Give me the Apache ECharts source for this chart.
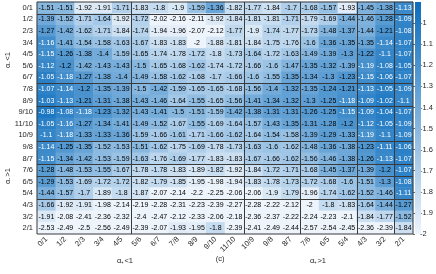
<!DOCTYPE html>
<html><head><meta charset="utf-8">
<script src="https://cdn.jsdelivr.net/npm/echarts@6/dist/echarts.min.js"></script>
<style>html,body{margin:0;padding:0;background:#fff}#c{width:436px;height:274px}</style>
</head><body><div id="c"></div>
<script>
const rowLabels = ['0/1','1/2','2/3','3/4','4/5','5/6','6/7','7/8','8/9','9/10','11/10','10/9','9/8','8/7','7/6','6/5','5/4','4/3','3/2','2/1'];
const colLabels = ['0/1','1/2','2/3','3/4','4/5','5/6','6/7','7/8','8/9','9/10','11/10','10/9','9/8','8/7','7/6','6/5','5/4','4/3','3/2','2/1'];
const cellValues = [
  [-1.51,-1.51,-1.92,-1.91,-1.71,-1.83,-1.8,-1.9,-1.59,-1.36,-1.82,-1.77,-1.84,-1.7,-1.68,-1.57,-1.93,-1.45,-1.38,-1.13],
  [-1.39,-1.52,-1.71,-1.64,-1.92,-1.72,-2.02,-2.16,-2.11,-1.92,-1.84,-1.81,-1.81,-1.71,-1.79,-1.69,-1.44,-1.46,-1.28,-1.09],
  [-1.27,-1.42,-1.62,-1.71,-1.84,-1.74,-1.94,-1.96,-2.07,-2.12,-1.77,-1.9,-1.74,-1.77,-1.73,-1.48,-1.37,-1.44,-1.21,-1.08],
  [-1.16,-1.41,-1.54,-1.58,-1.63,-1.67,-1.83,-1.83,-2,-1.88,-1.81,-1.84,-1.75,-1.76,-1.6,-1.36,-1.35,-1.35,-1.14,-1.07],
  [-1.15,-1.26,-1.38,-1.4,-1.59,-1.65,-1.74,-1.78,-1.72,-1.8,-1.73,-1.64,-1.72,-1.63,-1.49,-1.39,-1.3,-1.22,-1.1,-1.07],
  [-1.12,-1.2,-1.42,-1.43,-1.43,-1.5,-1.65,-1.68,-1.62,-1.74,-1.72,-1.66,-1.6,-1.47,-1.35,-1.32,-1.39,-1.19,-1.08,-1.05],
  [-1.05,-1.18,-1.27,-1.38,-1.4,-1.49,-1.58,-1.62,-1.68,-1.7,-1.66,-1.6,-1.55,-1.35,-1.34,-1.3,-1.23,-1.15,-1.06,-1.07],
  [-1.07,-1.14,-1.2,-1.35,-1.39,-1.5,-1.42,-1.59,-1.65,-1.65,-1.68,-1.56,-1.4,-1.32,-1.35,-1.24,-1.21,-1.13,-1.05,-1.09],
  [-1.03,-1.13,-1.21,-1.31,-1.38,-1.43,-1.46,-1.64,-1.55,-1.65,-1.56,-1.41,-1.34,-1.32,-1.3,-1.25,-1.18,-1.09,-1.02,-1.1],
  [-0.98,-1.08,-1.18,-1.23,-1.32,-1.43,-1.41,-1.5,-1.51,-1.59,-1.42,-1.38,-1.31,-1.31,-1.26,-1.25,-1.15,-1.09,-1.04,-1.07],
  [-1.05,-1.16,-1.27,-1.34,-1.41,-1.49,-1.52,-1.67,-1.55,-1.69,-1.64,-1.57,-1.43,-1.35,-1.31,-1.28,-1.2,-1.12,-1.05,-1.09],
  [-1.1,-1.18,-1.33,-1.33,-1.36,-1.59,-1.66,-1.61,-1.71,-1.66,-1.62,-1.64,-1.54,-1.58,-1.39,-1.29,-1.33,-1.19,-1.1,-1.09],
  [-1.14,-1.25,-1.35,-1.52,-1.53,-1.51,-1.62,-1.75,-1.69,-1.78,-1.73,-1.63,-1.6,-1.62,-1.48,-1.36,-1.38,-1.23,-1.11,-1.06],
  [-1.15,-1.34,-1.42,-1.53,-1.59,-1.63,-1.76,-1.69,-1.77,-1.83,-1.83,-1.67,-1.66,-1.62,-1.56,-1.46,-1.38,-1.26,-1.13,-1.07],
  [-1.28,-1.48,-1.53,-1.55,-1.67,-1.78,-1.78,-1.83,-1.89,-1.82,-1.92,-1.84,-1.72,-1.71,-1.68,-1.45,-1.37,-1.39,-1.2,-1.07],
  [-1.29,-1.53,-1.69,-1.72,-1.72,-1.82,-1.79,-1.85,-1.95,-1.98,-1.94,-1.83,-1.78,-1.73,-1.72,-1.68,-1.6,-1.51,-1.3,-1.08],
  [-1.44,-1.57,-1.7,-1.89,-1.8,-1.87,-2.07,-2.14,-2.2,-2.25,-2.06,-2.06,-1.9,-1.79,-1.96,-1.74,-1.62,-1.52,-1.46,-1.11],
  [-1.66,-1.92,-1.91,-1.98,-2.14,-2.19,-2.28,-2.31,-2.23,-2.39,-2.27,-2.28,-2.22,-2.12,-2,-1.8,-1.83,-1.64,-1.44,-1.27],
  [-1.91,-2.08,-2.41,-2.36,-2.32,-2.4,-2.47,-2.12,-2.33,-2.06,-2.18,-2.36,-2.37,-2.22,-2.24,-2.23,-2.1,-1.84,-1.77,-1.52],
  [-2.53,-2.49,-2.5,-2.56,-2.49,-2.39,-2.07,-1.93,-1.95,-1.8,-2.39,-2.41,-2.49,-2.44,-2.57,-2.54,-2.45,-2.36,-2.39,-1.84]
];
const colorMin = -2;
const colorMax = -0.9;
const colorStops = ['#eef4fb', '#0b6dbd'];
const colCuts = [4, 10, 13, 16, 18];
const rowCuts = [0, 6, 8, 11, 13, 14, 16];

const FONT = 'Liberation Sans, Arial, sans-serif';
const heatData = [];
cellValues.forEach((row, r) => row.forEach((v, c) => {
  heatData.push({
    value: [c, r, v, Math.max(colorMin, Math.min(colorMax, v))],
    label: { color: v > -1.2 ? '#ffffff' : '#000000' }
  });
}));

const chart = echarts.init(document.getElementById('c'), null, { renderer: 'canvas' });
const G = { left: 37, right: 23, top: 2, bottom: 40 };
const CB = { left: 415, width: 6, top: 2, bottom: 40 };
const cbHeight = 274 - CB.top - CB.bottom;

function vLine(params, api) {
  const p = api.coord([api.value(0), 0]);
  const w = api.size([1, 1])[0];
  const cs = params.coordSys;
  const x = Math.round(p[0] + w / 2) + 0.5;
  return { type: 'line', shape: { x1: x, y1: cs.y, x2: x, y2: cs.y + cs.height }, style: { stroke: '#3a3a3a', lineWidth: 1 } };
}
function hLine(params, api) {
  const p = api.coord([0, api.value(1)]);
  const h = api.size([1, 1])[1];
  const cs = params.coordSys;
  const y = Math.round(p[1] + h / 2) + 0.5;
  return { type: 'line', shape: { x1: cs.x, y1: y, x2: cs.x + cs.width, y2: y }, style: { stroke: '#3a3a3a', lineWidth: 1 } };
}

chart.setOption({
  animation: false,
  textStyle: { fontFamily: FONT },
  grid: [
    { left: G.left, right: G.right, top: G.top, bottom: G.bottom, show: true, borderColor: '#3a3a3a', borderWidth: 1, backgroundColor: 'transparent', z: 4 },
    { left: CB.left, width: CB.width, top: CB.top, bottom: CB.bottom }
  ],
  xAxis: [
    { type: 'category', gridIndex: 0, data: colLabels, axisLine: { show: false }, axisTick: { show: false }, splitLine: { show: false },
      axisLabel: { rotate: 45, fontSize: 7.5, color: '#262626', margin: 4, fontFamily: FONT } },
    { type: 'value', gridIndex: 1, show: false, min: 0, max: 1 }
  ],
  yAxis: [
    { type: 'category', gridIndex: 0, data: rowLabels, inverse: true, axisLine: { show: false }, axisTick: { show: false }, splitLine: { show: false },
      axisLabel: { fontSize: 7.5, color: '#262626', margin: 4, fontFamily: FONT } },
    { type: 'value', gridIndex: 1, position: 'right', min: colorMin, max: colorMax, interval: 0.1,
      axisLine: { show: false }, splitLine: { show: false },
      axisTick: { show: true, inside: true, length: 2, lineStyle: { color: '#444', width: 0.8 } },
      axisLabel: { fontSize: 7.5, color: '#262626', margin: 3, fontFamily: FONT, showMaxLabel: false,
        formatter: v => (v > -0.95 ? '' : String(+v.toFixed(1))) } }
  ],
  visualMap: {
    show: false, type: 'continuous', seriesIndex: 0, dimension: 3,
    min: colorMin, max: colorMax, inRange: { color: colorStops }
  },
  series: [
    { type: 'heatmap', xAxisIndex: 0, yAxisIndex: 0, data: heatData,
      label: { show: true, fontSize: 7, fontFamily: FONT, formatter: p => String(p.value[2]) },
      itemStyle: { borderWidth: 0 }, emphasis: { disabled: true } },
    { type: 'custom', xAxisIndex: 0, yAxisIndex: 0, z: 5, renderItem: vLine, data: colCuts.map(c => [c, 0]), silent: true },
    { type: 'custom', xAxisIndex: 0, yAxisIndex: 0, z: 5, renderItem: hLine, data: rowCuts.map(r => [0, r]), silent: true }
  ],
  graphic: [
    { type: 'rect', left: CB.left, top: CB.top, z: 1, shape: { width: CB.width, height: cbHeight },
      style: { fill: new echarts.graphic.LinearGradient(0, 0, 0, 1, [{ offset: 0, color: colorStops[1] }, { offset: 1, color: colorStops[0] }]) } },
    { type: 'text', x: 8, y: 60, rotation: Math.PI / 2, style: { text: 'α₋<1', font: '7.5px ' + FONT, fill: '#262626', align: 'center', verticalAlign: 'middle' } },
    { type: 'text', x: 8, y: 176, rotation: Math.PI / 2, style: { text: 'α₋>1', font: '7.5px ' + FONT, fill: '#262626', align: 'center', verticalAlign: 'middle' } },
    { type: 'text', x: 125, y: 261, style: { text: 'α₊<1', font: '7.5px ' + FONT, fill: '#262626', align: 'center', verticalAlign: 'middle' } },
    { type: 'text', x: 220, y: 259, style: { text: '(c)', font: '7.5px ' + FONT, fill: '#262626', align: 'center', verticalAlign: 'middle' } },
    { type: 'text', x: 318, y: 261, style: { text: 'α₊>1', font: '7.5px ' + FONT, fill: '#262626', align: 'center', verticalAlign: 'middle' } }
  ]
});
</script>
</body></html>
